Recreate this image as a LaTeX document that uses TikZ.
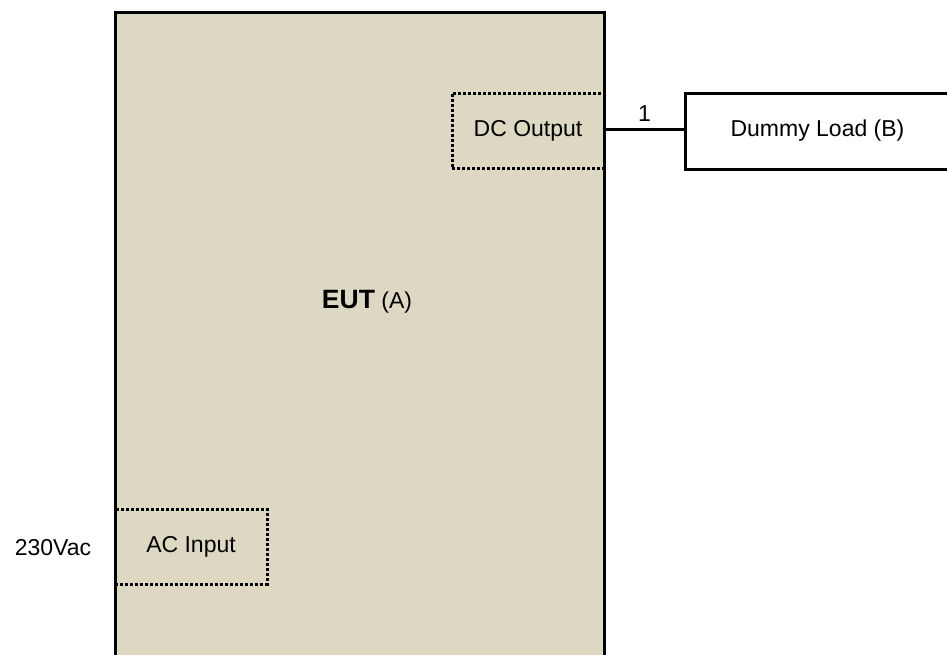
\documentclass[tikz,border=0pt]{standalone}
\usepackage{fontspec}
\setmainfont{Liberation Sans}
\definecolor{eutfill}{HTML}{DDD8C2}
\begin{document}
\begin{tikzpicture}[x=1pt,y=-1pt,
  every node/.style={font=\fontsize{23}{27}\selectfont, inner sep=0pt},
  solidbox/.style={draw=black, line width=3pt, rectangle},
  dotbox/.style={draw=black, line width=3pt, dash pattern=on 2.6pt off 2.4pt, rectangle},
  wire/.style={draw=black, line width=3pt}]
\useasboundingbox (0,0) rectangle (947,654);
\node[solidbox, fill=eutfill, minimum width=489pt, minimum height=660pt] (eut) at (359.5,342) {};
\node (eutlabel) at (367,302) {{\fontsize{26.5}{30}\selectfont\textbf{EUT}} (A)};
\node[dotbox, minimum width=152pt, minimum height=75pt] (dc) at (528,130.5) {DC Output};
\node[dotbox, minimum width=152pt, minimum height=75pt] (ac) at (191,546.5) {AC Input};
\node[solidbox, fill=white, minimum width=265pt, minimum height=76pt] (load) at (817.5,131) {Dummy Load (B)};
\node (vac) at (53,548) {230Vac};
\draw[wire] (dc.east |- 0,129) coordinate (w1) -- (load.west |- 0,129) coordinate (w2)
  node[midway, above=6pt] (n1) {1};
\end{tikzpicture}
\end{document}
